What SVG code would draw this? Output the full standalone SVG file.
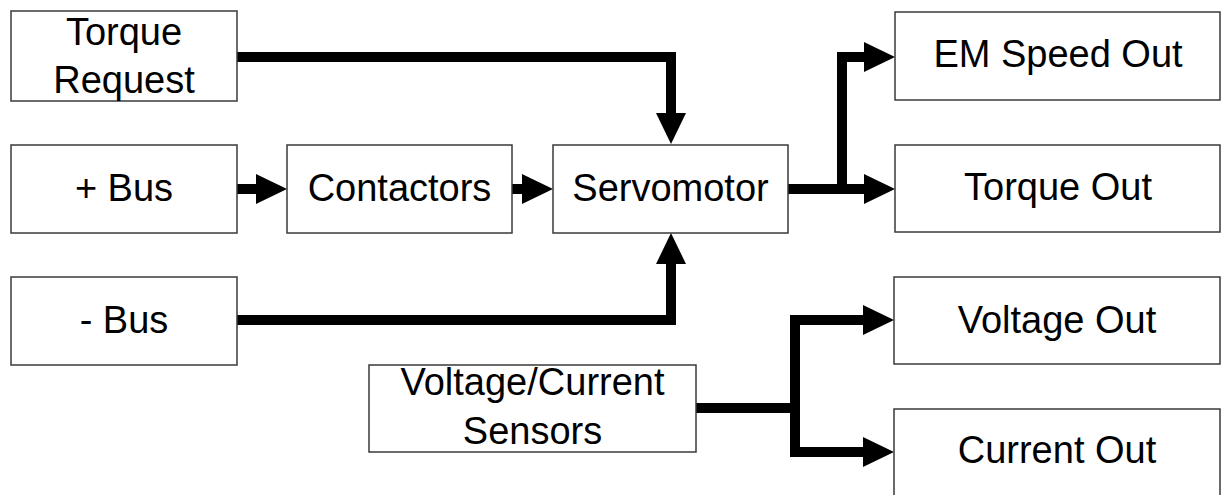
<svg xmlns="http://www.w3.org/2000/svg" width="1222" height="495" viewBox="0 0 1222 495">
  <style>
    .box { fill: #ffffff; stroke: #3a3a3a; stroke-width: 1.5; }
    .lbl { font-family: "Liberation Sans", Arial, sans-serif; font-size: 38px; fill: #000; text-anchor: middle; }
    .wire { fill: none; stroke: #000; stroke-width: 10; stroke-linejoin: miter; stroke-linecap: butt; }
  </style>
  <defs>
    <marker id="head" markerUnits="userSpaceOnUse" markerWidth="31" markerHeight="30" refX="0" refY="15" orient="auto" overflow="visible">
      <path d="M0,0 L31,15 L0,30 Z" fill="#000"/>
    </marker>
  </defs>
  <rect width="1222" height="495" fill="#ffffff"/>

  <g id="connectors">
    <path class="wire" d="M237,57 H671 V113" marker-end="url(#head)"/>
    <path class="wire" d="M237,189 H256" marker-end="url(#head)"/>
    <path class="wire" d="M512,189 H522" marker-end="url(#head)"/>
    <path class="wire" d="M237,320 H671 V264" marker-end="url(#head)"/>
    <path class="wire" d="M788,189 H864" marker-end="url(#head)"/>
    <path class="wire" d="M842,189 V57 H864" marker-end="url(#head)"/>
    <path class="wire" d="M696,408 H795 V320 H863" marker-end="url(#head)"/>
    <path class="wire" d="M795,408 V452 H863" marker-end="url(#head)"/>
  </g>

  <g id="torque-request">
    <rect class="box" x="11" y="11" width="226" height="90"/>
    <text class="lbl" x="124" y="45">Torque</text>
    <text class="lbl" x="124" y="93">Request</text>
  </g>
  <g id="plus-bus">
    <rect class="box" x="11" y="145" width="226" height="88"/>
    <text class="lbl" x="124" y="201">+ Bus</text>
  </g>
  <g id="minus-bus">
    <rect class="box" x="11" y="277" width="226" height="88"/>
    <text class="lbl" x="124" y="333">- Bus</text>
  </g>
  <g id="contactors">
    <rect class="box" x="287" y="145" width="225" height="88"/>
    <text class="lbl" x="399.5" y="201">Contactors</text>
  </g>
  <g id="servomotor">
    <rect class="box" x="553" y="145" width="235" height="88"/>
    <text class="lbl" x="670.5" y="201">Servomotor</text>
  </g>
  <g id="sensors">
    <rect class="box" x="369" y="365" width="327" height="87"/>
    <text class="lbl" x="532.5" y="395">Voltage/Current</text>
    <text class="lbl" x="532.5" y="444">Sensors</text>
  </g>
  <g id="em-speed-out">
    <rect class="box" x="895" y="12" width="325" height="88"/>
    <text class="lbl" x="1058" y="67">EM Speed Out</text>
  </g>
  <g id="torque-out">
    <rect class="box" x="895" y="145" width="325" height="87"/>
    <text class="lbl" x="1058" y="200">Torque Out</text>
  </g>
  <g id="voltage-out">
    <rect class="box" x="894" y="277" width="326" height="87"/>
    <text class="lbl" x="1057" y="333">Voltage Out</text>
  </g>
  <g id="current-out">
    <rect class="box" x="894" y="409" width="326" height="100"/>
    <text class="lbl" x="1057" y="463">Current Out</text>
  </g>
</svg>
